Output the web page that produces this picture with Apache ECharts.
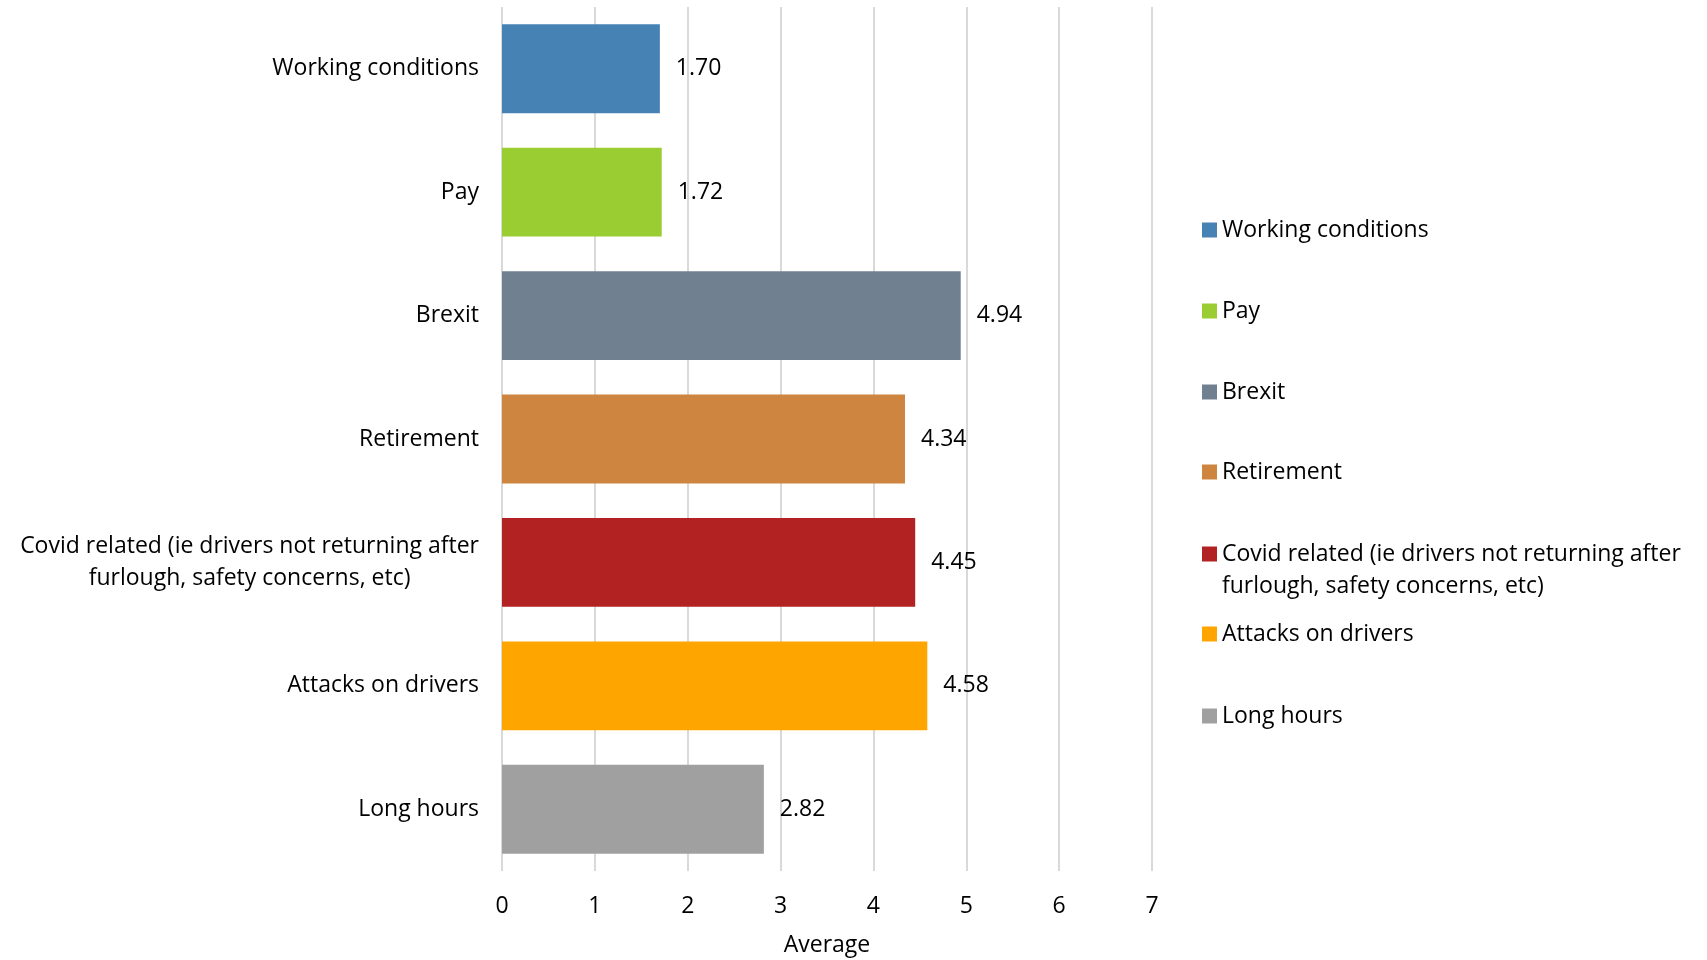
<!DOCTYPE html>
<html>
<head>
<meta charset="utf-8">
<script src="https://cdn.jsdelivr.net/npm/echarts@6/dist/echarts.min.js"></script>
<style>
html,body{margin:0;padding:0;background:#fff;}
#chart{width:1707px;height:960px;}
</style>
</head>
<body>
<div id="chart"></div>
<script>
const categories = [
  'Working conditions',
  'Pay',
  'Brexit',
  'Retirement',
  'Covid related (ie drivers not returning after\nfurlough, safety concerns, etc)',
  'Attacks on drivers',
  'Long hours'
];
const values = [1.70, 1.72, 4.94, 4.34, 4.45, 4.58, 2.82];
const colors = ['#4682b4', '#9acd32', '#708090', '#cd853f', '#b22222', '#ffa500', '#a0a0a0'];
const xTicks = [0, 1, 2, 3, 4, 5, 6, 7];
const axisName = 'Average';

const FONT = 'Open Sans';
const FS = 23;
const LH = 32;
const chart = echarts.init(document.getElementById('chart'), null, {renderer: 'canvas'});

const series = categories.map((c, i) => ({
  name: c,
  type: 'bar',
  stack: 'all',
  barCategoryGap: '28%',
  data: categories.map((_, j) => j === i ? values[i] : '-'),
  itemStyle: {color: colors[i]},
  label: {
    show: true,
    position: 'right',
    distance: 16,
    color: '#000',
    fontFamily: FONT,
    fontSize: FS,
    formatter: p => Number(p.value).toFixed(2)
  },
  emphasis: {disabled: true}
}));

const legendCenters = [230, 311, 392, 472, 554, 634, 716];
const legends = categories.map((c, i) => {
  const multi = c.indexOf('\n') >= 0;
  return {
    data: [c],
    left: 1202,
    top: multi ? legendCenters[i] - 1.5 * LH : legendCenters[i] - LH / 2,
    orient: 'vertical',
    icon: 'rect',
    itemWidth: 15,
    itemHeight: 15,
    itemGap: 8,
    padding: 0,
    selectedMode: false,
    formatter: name => multi ? '\u00a0\n' + name : name,
    textStyle: {
      fontFamily: FONT,
      fontSize: FS,
      color: '#000',
      lineHeight: LH
    }
  };
});

chart.setOption({
  animation: false,
  backgroundColor: '#fff',
  grid: {left: 502, right: 555, top: 7, bottom: 89, containLabel: false, outerBoundsMode: 'none'},
  legend: legends,
  xAxis: {
    type: 'value',
    min: xTicks[0],
    max: xTicks[xTicks.length - 1],
    interval: 1,
    name: axisName,
    nameLocation: 'middle',
    nameGap: 63,
    nameTextStyle: {fontFamily: FONT, fontSize: FS, color: '#000'},
    axisLine: {show: false},
    axisTick: {show: false},
    axisLabel: {fontFamily: FONT, fontSize: FS, color: '#000', margin: 24},
    splitLine: {show: true, lineStyle: {color: '#d9d9d9', width: 2}}
  },
  yAxis: {
    type: 'category',
    data: categories,
    inverse: true,
    axisLine: {show: false},
    axisTick: {show: false},
    axisLabel: {
      fontFamily: FONT,
      fontSize: FS,
      color: '#000',
      margin: 23,
      lineHeight: LH,
      formatter: v => {
        if (v.indexOf('\n') >= 0) {
          return v.split('\n').map(s => '{c|' + s + '}').join('\n');
        }
        return v;
      },
      rich: {c: {align: 'center', fontFamily: FONT, fontSize: FS, color: '#000', lineHeight: LH}}
    }
  },
  series: series
});
</script>
</body>
</html>
